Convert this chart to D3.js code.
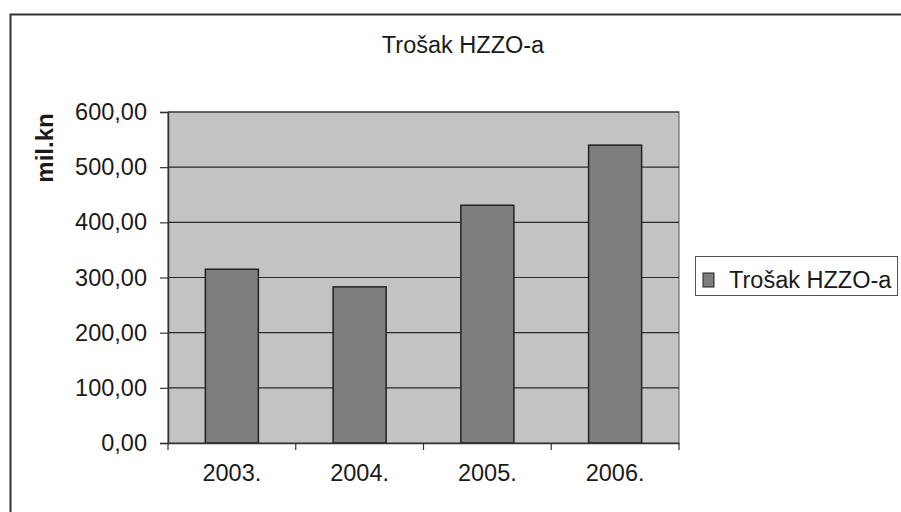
<!DOCTYPE html>
<html><head><meta charset="utf-8">
<script src="https://cdn.jsdelivr.net/npm/d3@7"></script>
<style>body{margin:0;background:#fff}</style>
</head><body>
<svg id="c" width="901" height="512"></svg>
<script>
const categories = ["2003.", "2004.", "2005.", "2006."];
const values = [315, 283, 431, 540];
const yTicks = [0, 100, 200, 300, 400, 500, 600];
const seriesName = "Trošak HZZO-a";
const chartTitle = "Trošak HZZO-a";
const yTitle = "mil.kn";

const svg = d3.select("#c");
const font = "'Liberation Sans', Arial, sans-serif";
const fs = 23.5;
const m = {left: 168, top: 112, right: 679, bottom: 443};

// outer frame
svg.append("rect").attr("x", 10.5).attr("y", 14.5).attr("width", 900).attr("height", 510)
  .attr("fill", "#fff").attr("stroke", "#333").attr("stroke-width", 2);

const x = d3.scaleBand().domain(categories).range([m.left, m.right]).paddingInner(0.585).paddingOuter(0.2925);
const y = d3.scaleLinear().domain([0, 600]).range([m.bottom, m.top]);

// plot area
svg.append("rect").attr("x", m.left).attr("y", m.top).attr("width", m.right - m.left).attr("height", m.bottom - m.top)
  .attr("fill", "#c3c3c3").attr("stroke", "#555").attr("stroke-width", 1);

// gridlines
svg.append("g").selectAll("line").data(yTicks.slice(1)).join("line")
  .attr("x1", m.left).attr("x2", m.right).attr("y1", d => y(d)).attr("y2", d => y(d))
  .attr("stroke", "#2a2a2a").attr("stroke-width", 1.2);

// bars
svg.append("g").selectAll("rect").data(values).join("rect")
  .attr("x", (d, i) => x(categories[i])).attr("width", x.bandwidth())
  .attr("y", d => y(d)).attr("height", d => y(0) - y(d))
  .attr("fill", "#7e7e7e").attr("stroke", "#222").attr("stroke-width", 1.5);

// y axis
const fmt = d => d3.format(".2f")(d).replace(".", ",");
const yAxis = svg.append("g").attr("transform", `translate(${m.left},0)`)
  .call(d3.axisLeft(y).tickValues(yTicks).tickFormat(fmt).tickSize(8).tickPadding(13));
yAxis.select(".domain").attr("stroke", "#333").attr("stroke-width", 1.5);
yAxis.selectAll(".tick line").attr("stroke", "#333").attr("stroke-width", 1.2);
yAxis.selectAll("text").attr("font-family", font).attr("font-size", fs).attr("fill", "#1a1a1a");

// x axis
const xAxis = svg.append("g").attr("transform", `translate(0,${m.bottom})`)
  .call(d3.axisBottom(x).tickSize(0).tickPadding(21));
xAxis.select(".domain").attr("stroke", "#333").attr("stroke-width", 1.5);
xAxis.selectAll("text").attr("font-family", font).attr("font-size", fs).attr("fill", "#1a1a1a");
// category boundary ticks
const step = x.step();
svg.append("g").selectAll("line").data(d3.range(categories.length + 1)).join("line")
  .attr("x1", i => m.left + i * step).attr("x2", i => m.left + i * step)
  .attr("y1", m.bottom).attr("y2", m.bottom + 7)
  .attr("stroke", "#333").attr("stroke-width", 1.2);

// title
svg.append("text").attr("x", 463).attr("y", 53).attr("text-anchor", "middle")
  .attr("font-family", font).attr("font-size", fs).attr("fill", "#1a1a1a").text(chartTitle);

// y title
svg.append("text").attr("transform", "translate(53,148) rotate(-90)").attr("text-anchor", "middle")
  .attr("font-family", font).attr("font-size", 24).attr("font-weight", "bold").attr("fill", "#1a1a1a").text(yTitle);

// legend
const lg = svg.append("g");
lg.append("rect").attr("x", 695.5).attr("y", 256.5).attr("width", 202).attr("height", 39)
  .attr("fill", "#fff").attr("stroke", "#555").attr("stroke-width", 1);
lg.append("rect").attr("x", 703).attr("y", 273).attr("width", 11).attr("height", 14)
  .attr("fill", "#7e7e7e").attr("stroke", "#222").attr("stroke-width", 1);
lg.append("text").attr("x", 729).attr("y", 288).attr("font-family", font).attr("font-size", fs)
  .attr("fill", "#1a1a1a").text(seriesName);
</script>
</body></html>
